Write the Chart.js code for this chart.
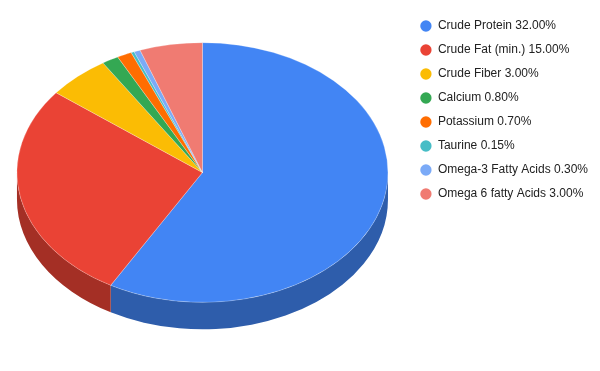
<!DOCTYPE html>
<html>
<head>
<meta charset="utf-8">
<script src="https://cdn.jsdelivr.net/npm/chart.js@4.4.1/dist/chart.umd.min.js"></script>
<style>
  html, body { margin: 0; padding: 0; background: #fff; overflow: hidden; }
  #wrap { width: 603px; height: 371px; position: relative; left: -3px; }
</style>
</head>
<body>
<div id="wrap"><canvas id="pieChart"></canvas></div>
<script>
// Data
const categories = ['Crude Protein', 'Crude Fat (min.)', 'Crude Fiber', 'Calcium', 'Potassium', 'Taurine', 'Omega-3 Fatty Acids', 'Omega 6 fatty Acids'];
const percents = [32, 15, 3, 0.8, 0.7, 0.15, 0.3, 3];
const sliceColors = ['#4285f4', '#ea4335', '#fbbc04', '#34a853', '#ff6d01', '#46bdc6', '#7baaf7', '#f07b72'];

// darker shade for the pie's side wall
function darken(hex, f) {
    const n = parseInt(hex.slice(1), 16);
    const r = Math.round((n >> 16) * f), g = Math.round(((n >> 8) & 255) * f), b = Math.round((n & 255) * f);
    return `rgb(${r},${g},${b})`;
}
const sideColors = sliceColors.map(c => darken(c, 0.7));

// Squash the pie into an ellipse and give it a thick edge
const tiltPlugin = {
    id: 'tilt',
    beforeDatasetsDraw(chart, args, opts) {
        const arcs = chart.getDatasetMeta(0).data;
        if (!arcs.length) return;
        const { x, y, outerRadius } = arcs[0];
        const ry = outerRadius * opts.ratio;
        const cy = y - opts.depth / 2;
        const ctx = chart.ctx;
        arcs.forEach((arc, i) => {
            const a0 = Math.max(arc.startAngle, 0);
            const a1 = Math.min(arc.endAngle, Math.PI);
            if (a0 >= a1) return;
            ctx.beginPath();
            ctx.ellipse(x, cy, outerRadius, ry, 0, a0, a1);
            ctx.ellipse(x, cy + opts.depth, outerRadius, ry, 0, a1, a0, true);
            ctx.closePath();
            ctx.fillStyle = sideColors[i];
            ctx.fill();
        });
        ctx.save();
        ctx.translate(x, cy);
        ctx.scale(1, opts.ratio);
        ctx.translate(-x, -y);
    },
    afterDatasetsDraw(chart) {
        chart.ctx.restore();
    }
};

document.addEventListener('DOMContentLoaded', function() {
    const ctx = document.getElementById('pieChart');
    new Chart(ctx, {
        type: 'pie',
        data: {
            labels: categories,
            datasets: [{
                data: percents,
                backgroundColor: sliceColors,
                borderColor: 'rgba(255,255,255,0.6)',
                borderWidth: 0.5
            }]
        },
        options: {
            responsive: true,
            maintainAspectRatio: false,
            animation: false,
            radius: 185.5,
            layout: { padding: { top: 8, bottom: 7, left: 0, right: 2 } },
            plugins: {
                tilt: { ratio: 0.7, depth: 27 },
                tooltip: { enabled: false },
                legend: {
                    position: 'right',
                    align: 'start',
                    labels: {
                        usePointStyle: true,
                        pointStyle: 'circle',
                        boxWidth: 12,
                        boxHeight: 8,
                        padding: 12,
                        color: '#222222',
                        font: { family: 'Arial, "Liberation Sans", sans-serif', size: 12 },
                        generateLabels: function(chart) {
                            const items = Chart.overrides.pie.plugins.legend.labels.generateLabels(chart);
                            return items.map((item, i) => {
                                item.text = `${categories[i]} ${percents[i].toFixed(2)}%`;
                                item.lineWidth = 0;
                                return item;
                            });
                        }
                    }
                }
            }
        },
        plugins: [tiltPlugin]
    });
});
</script>
</body>
</html>
